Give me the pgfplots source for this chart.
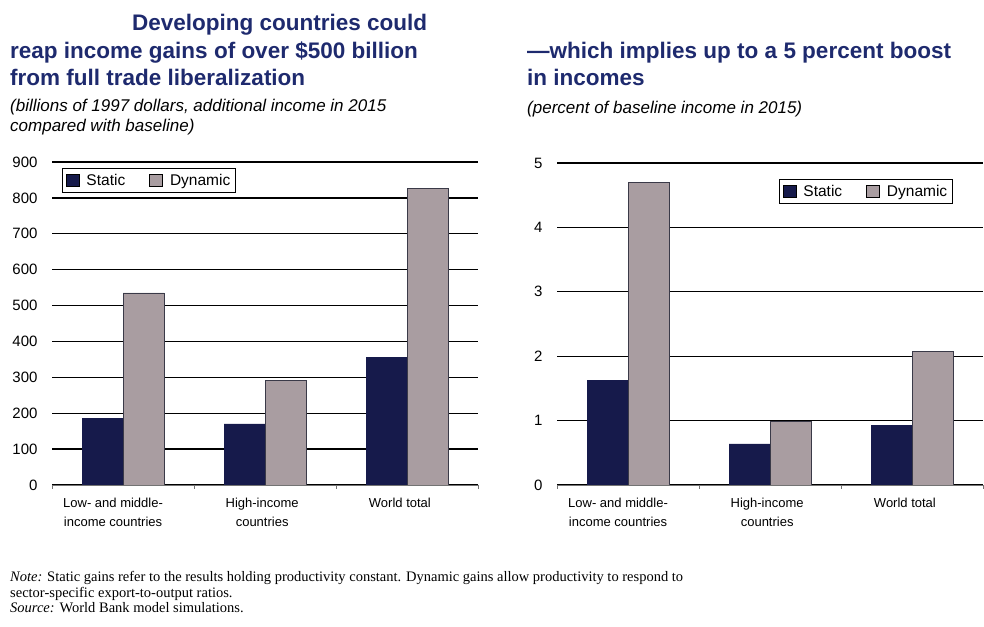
\documentclass[border=0pt]{standalone}
\usepackage{fontspec}
\setmainfont{Liberation Sans}
\newfontfamily\serif{Liberation Serif}
\usepackage{pgfplots}
\pgfplotsset{compat=1.18}
\definecolor{navy}{HTML}{161A4B}
\definecolor{mauve}{HTML}{A99DA1}
\definecolor{barline}{HTML}{3A3A48}
\definecolor{titleblue}{HTML}{1E2A6E}
\pgfplotsset{
 mybar/.style={
  scale only axis, width=426pt,
  xmin=-0.5, xmax=2.5, ymin=0,
  axis x line*=bottom, axis y line*=left,
  y axis line style={draw=none},
  x axis line style={draw=black!55, line width=0.8pt},
  ymajorgrids, grid style={black, line width=1.3pt},
  ytick style={draw=none},
  xtick={-0.5,0.5,1.5,2.5},
  xticklabels={,,,},
  xtick style={draw=black!55, line width=0.8pt},
  major tick length=4pt,
  xtick align=outside,
  extra x ticks={-0.07,0.98,1.95},
  extra x tick labels={Low- and middle-\\income countries, High-income\\countries, World total},
  extra x tick style={major tick length=0pt, xticklabel style={align=center, font=\fontsize{13}{19}\selectfont, yshift=-10pt}},
  yticklabel style={font=\fontsize{15}{16}\selectfont, xshift=-11pt},
  /pgf/number format/assume math mode=true,
  ybar=0pt, bar width=41pt,
  legend columns=2,
  legend style={draw=black, line width=0.9pt, font=\fontsize{15.5}{17}\selectfont, inner xsep=3.5pt, inner ysep=3.5pt, /tikz/every even column/.append style={column sep=22pt}},
  legend image code/.code={\draw[##1, draw=black, line width=0.6pt] (0pt,-6pt) rectangle (13pt,6pt); \path (18pt,0pt);},
 }
}
\pgfplotstableread{
x static dynamic
0 185 535
1 170 292
2 355 825
}\leftdata
\pgfplotstableread{
x static dynamic
0 1.63 4.70
1 0.64 0.98
2 0.93 2.08
}\rightdata
\begin{document}
\begin{tikzpicture}
\useasboundingbox (0,0) rectangle (984pt,626pt);
\begin{axis}[mybar, at={(52pt,141pt)}, anchor=south west, height=323pt,
  ymax=900, ytick={0,100,...,900},
  legend style={at={(0.023,0.981)}, anchor=north west}]
\addplot[fill=navy, draw=navy] table[x=x,y=static] {\leftdata};
\addplot[fill=mauve, draw=barline, line width=0.9pt] table[x=x,y=dynamic] {\leftdata};
\legend{Static, Dynamic}
\end{axis}
\begin{axis}[mybar, at={(557pt,141pt)}, anchor=south west, height=322pt,
  ymax=5, ytick={0,1,...,5},
  legend style={at={(0.93,0.95)}, anchor=north east}]
\addplot[fill=navy, draw=navy] table[x=x,y=static] {\rightdata};
\addplot[fill=mauve, draw=barline, line width=0.9pt] table[x=x,y=dynamic] {\rightdata};
\legend{Static, Dynamic}
\end{axis}
\begin{scope}[every node/.style={inner sep=0pt, anchor=base west}]
\node[font=\fontsize{22.5}{25}\selectfont\bfseries, text=titleblue] at (132pt,595pt) {Developing countries could};
\node[font=\fontsize{22.5}{25}\selectfont\bfseries, text=titleblue] at (10pt,567pt) {reap income gains of over \$500 billion};
\node[font=\fontsize{22.5}{25}\selectfont\bfseries, text=titleblue] at (10pt,540pt) {from full trade liberalization};
\node[font=\fontsize{22.5}{25}\selectfont\bfseries, text=titleblue] at (527pt,567pt) {---which implies up to a 5 percent boost};
\node[font=\fontsize{22.5}{25}\selectfont\bfseries, text=titleblue] at (527pt,540pt) {in incomes};
\node[font=\fontsize{17}{18}\selectfont\itshape] at (10pt,514pt) {(billions of 1997 dollars, additional income in 2015};
\node[font=\fontsize{17}{18}\selectfont\itshape] at (10pt,494pt) {compared with baseline)};
\node[font=\fontsize{17}{18}\selectfont\itshape] at (527pt,512pt) {(percent of baseline income in 2015)};
\node[font=\fontsize{14.5}{16}\selectfont\serif] at (10pt,45pt) {\textit{Note:} Static gains refer to the results holding productivity constant. Dynamic gains allow productivity to respond to};
\node[font=\fontsize{14.5}{16}\selectfont\serif] at (10pt,29pt) {sector-specific export-to-output ratios.};
\node[font=\fontsize{14.5}{16}\selectfont\serif] at (10pt,14pt) {\textit{Source:} World Bank model simulations.};
\end{scope}
\end{tikzpicture}
\end{document}
